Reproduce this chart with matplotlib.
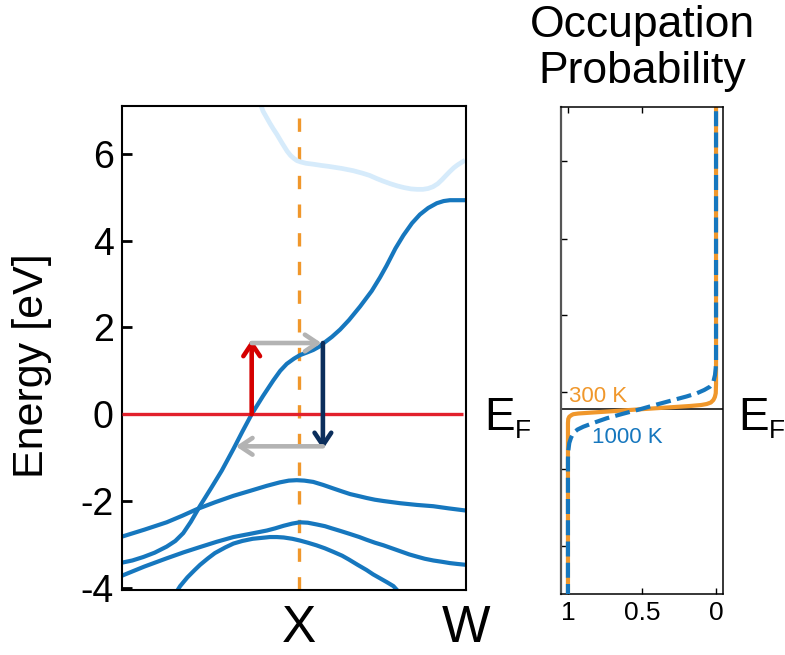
import numpy as np
import matplotlib
matplotlib.use("Agg")
import matplotlib.pyplot as plt

plt.rcParams['font.family'] = ['Liberation Sans', 'DejaVu Sans']

# ---- band structure data: k along the path (0..1), energies in eV ----
k_points = [0.515, 1.0]
k_labels = ['X', 'W']
e_ticks = [-4, -2, 0, 2, 4, 6]

band_top_k = [0.400, 0.410, 0.420, 0.430, 0.440, 0.450, 0.465, 0.480, 0.490, 0.500,
              0.509, 0.520, 0.535, 0.555, 0.580, 0.600, 0.640, 0.672, 0.700, 0.720,
              0.740, 0.759, 0.780, 0.800, 0.820, 0.840, 0.858, 0.875, 0.890, 0.904,
              0.918, 0.930, 0.942, 0.953, 0.965, 0.975, 0.987, 0.997]
band_top_e = [7.20, 6.98, 6.84, 6.70, 6.57, 6.45, 6.25, 6.06, 5.96, 5.89,
              5.84, 5.81, 5.78, 5.76, 5.73, 5.71, 5.66, 5.61, 5.55, 5.50,
              5.43, 5.37, 5.31, 5.26, 5.22, 5.19, 5.18, 5.18, 5.20, 5.24,
              5.31, 5.40, 5.50, 5.59, 5.68, 5.74, 5.80, 5.85]

band_cross_k = [0.0, 0.030, 0.062, 0.095, 0.130, 0.155, 0.178, 0.200, 0.227, 0.260,
                0.290, 0.324, 0.350, 0.377, 0.410, 0.440, 0.460, 0.479, 0.500, 0.517,
                0.537, 0.556, 0.572, 0.585, 0.610, 0.634, 0.660, 0.692, 0.726, 0.750,
                0.769, 0.795, 0.818, 0.843, 0.866, 0.890, 0.915, 0.935, 0.953, 0.975,
                1.0]
band_cross_e = [-3.42, -3.37, -3.29, -3.19, -3.05, -2.92, -2.74, -2.48, -2.11, -1.69,
                -1.30, -0.80, -0.40, 0.00, 0.42, 0.78, 1.00, 1.16, 1.28, 1.36,
                1.42, 1.48, 1.55, 1.63, 1.78, 1.95, 2.17, 2.48, 2.84, 3.15,
                3.42, 3.82, 4.12, 4.40, 4.60, 4.75, 4.86, 4.91, 4.93, 4.93,
                4.93]

band_a_k = [0.0, 0.065, 0.130, 0.175, 0.217, 0.270, 0.324, 0.375, 0.421, 0.440,
            0.459, 0.485, 0.508, 0.530, 0.556, 0.585, 0.614, 0.640, 0.663, 0.690,
            0.711, 0.735, 0.760, 0.808, 0.857, 0.905, 0.950, 1.0]
band_a_e = [-2.82, -2.66, -2.49, -2.34, -2.19, -2.03, -1.88, -1.76, -1.65, -1.61,
            -1.57, -1.53, -1.52, -1.53, -1.56, -1.63, -1.71, -1.78, -1.84, -1.89,
            -1.93, -1.97, -2.00, -2.05, -2.09, -2.12, -2.17, -2.22]

band_c_k = [0.0, 0.065, 0.130, 0.180, 0.227, 0.275, 0.324, 0.370, 0.421, 0.445,
            0.470, 0.495, 0.517, 0.540, 0.566, 0.590, 0.610, 0.635, 0.663, 0.690,
            0.710, 0.735, 0.760, 0.785, 0.810, 0.835, 0.857, 0.880, 0.905, 0.930,
            0.953, 0.975, 1.0]
band_c_e = [-3.72, -3.51, -3.32, -3.18, -3.06, -2.94, -2.83, -2.76, -2.68, -2.63,
            -2.57, -2.52, -2.49, -2.50, -2.54, -2.58, -2.63, -2.69, -2.76, -2.83,
            -2.89, -2.96, -3.02, -3.09, -3.16, -3.23, -3.28, -3.33, -3.37, -3.40,
            -3.43, -3.45, -3.47]

band_d_k = [0.150, 0.169, 0.190, 0.210, 0.227, 0.250, 0.270, 0.300, 0.324, 0.350,
            0.380, 0.405, 0.430, 0.450, 0.470, 0.495, 0.517, 0.540, 0.565, 0.590,
            0.614, 0.640, 0.660, 0.685, 0.711, 0.730, 0.750, 0.770, 0.789, 0.805,
            0.815]
band_d_e = [-4.20, -3.96, -3.76, -3.60, -3.47, -3.32, -3.20, -3.07, -2.98, -2.92,
            -2.87, -2.85, -2.83, -2.83, -2.84, -2.87, -2.91, -2.96, -3.02, -3.09,
            -3.17, -3.26, -3.35, -3.47, -3.59, -3.69, -3.78, -3.87, -3.96, -4.10,
            -4.20]

# scattering cycle drawn as arrows (k, E)
k_start, k_end, k_back = 0.377, 0.584, 0.331
e_excited, e_upper, e_lower, e_drop = 1.72, 1.64, -0.74, -0.81

# ---- occupation probability (Fermi function) data ----
occ_ticks = [1, 0.5, 0]
occ_labels = ['1', '0.5', '0']
f300_occ = [1.0, 1.0, 0.998, 0.991, 0.975, 0.964, 0.930, 0.851, 0.700, 0.514,
            0.350, 0.176, 0.100, 0.063, 0.035, 0.018, 0.008, 0.002, 0.0, 0.0]
f300_e = [-1.90, -0.140, -0.100, -0.077, -0.060, -0.052, -0.045, -0.037, -0.022, -0.003,
          0.013, 0.030, 0.040, 0.050, 0.065, 0.090, 0.120, 0.157, 0.250, 3.10]
f1000_occ = [1.0, 1.0, 0.998, 0.991, 0.980, 0.964, 0.935, 0.896, 0.820, 0.739,
             0.630, 0.514, 0.400, 0.288, 0.200, 0.130, 0.080, 0.041, 0.020, 0.007,
             0.002, 0.0, 0.0]
f1000_e = [-1.90, -0.50, -0.42, -0.34, -0.29, -0.24, -0.205, -0.177, -0.135, -0.093,
           -0.048, -0.003, 0.045, 0.090, 0.125, 0.157, 0.190, 0.223, 0.260, 0.340,
           0.410, 0.490, 3.10]
occ_eticks = [-1.37, -0.60, 0.17, 0.94, 1.70, 2.48]

blue = '#1677be'
light_blue = '#d6ebfb'
orange = '#f0972b'
red_line = '#e2212c'
red_arrow = '#d50000'
navy = '#0b2e5c'
gray = '#b3b3b3'

fig = plt.figure(figsize=(7.85, 6.55), dpi=100)
W, H = 785, 655
ax = fig.add_axes([122 / W, 1 - 590 / H, 344 / W, 484 / H])
ax2 = fig.add_axes([561 / W, 1 - 594 / H, 162 / W, 487 / H])

# ---- left: bands ----
ax.axvline(k_points[0], color=orange, lw=2.4, dashes=(4, 4.6), zorder=1)
ax.plot(band_top_k, band_top_e, color=light_blue, lw=3.4, solid_capstyle='butt',
        solid_joinstyle='round')
for kk, ee in [(band_cross_k, band_cross_e), (band_a_k, band_a_e),
               (band_c_k, band_c_e), (band_d_k, band_d_e)]:
    ax.plot(kk, ee, color=blue, lw=3.0, solid_joinstyle='round')
ax.hlines(0, 0, 0.99, color=red_line, lw=2.4, zorder=3)

def arrow(tail, tip, color):
    ax.annotate('', xy=tip, xytext=tail,
                arrowprops=dict(arrowstyle='->,head_length=0.45,head_width=0.3',
                                lw=3.3, color=color, shrinkA=0, shrinkB=0,
                                mutation_scale=20),
                zorder=4)

arrow((k_start, 0.0), (k_start, e_excited), red_arrow)
arrow((k_start, e_upper), (k_end - 0.004, e_upper), gray)
arrow((k_end, e_upper), (k_end, e_drop), navy)
arrow((k_end, e_lower), (k_back, e_lower), gray)

ax.set_xlim(0, 1)
ax.set_ylim(-4.05, 7.1)
ax.set_xticks(k_points)
ax.set_xticklabels(k_labels)
ax.set_yticks(e_ticks)
ax.set_yticklabels([str(t) for t in e_ticks])
ax.tick_params(axis='x', length=0, labelsize=37, pad=10)
ax.tick_params(axis='y', direction='in', length=7, width=2, labelsize=27, pad=6)
for s in ax.spines.values():
    s.set_linewidth(1.5)

fig.text(32 / W, 1 - 366 / H, 'Energy [eV]', rotation=90, ha='center', va='center', fontsize=31)

# ---- right: occupation probability ----
ax2.axhline(0, color='black', lw=1.1, zorder=1)
ax2.plot(f300_occ, f300_e, color=orange, lw=3.0, zorder=2, solid_joinstyle='round')
ax2.plot(f1000_occ, f1000_e, color=blue, lw=3.0, dashes=(3.6, 1.5), zorder=3)
ax2.set_xlim(1.047, -0.047)
ax2.set_ylim(-1.85, 3.02)
ax2.set_xticks(occ_ticks)
ax2.set_xticklabels(occ_labels)
ax2.set_yticks(occ_eticks)
ax2.set_yticklabels([])
ax2.tick_params(axis='x', direction='in', top=True, length=4, width=1, labelsize=19, pad=5)
ax2.tick_params(axis='y', direction='in', length=4, width=1)
for s in ax2.spines.values():
    s.set_linewidth(1.1)
ax2.spines['left'].set_linewidth(1.6)
ax2.spines['left'].set_color('#555555')

ax2.text(0.99, 0.07, '300 K', color=orange, fontsize=16, va='baseline', ha='left')
ax2.text(0.84, -0.34, '1000 K', color=blue, fontsize=16, va='baseline', ha='left')

fig.text(642 / W, 1 - 83 / H, 'Occupation\nProbability', ha='center', va='baseline',
         fontsize=32, linespacing=1.15)

# Fermi level labels
for xe in (484, 738):
    fig.text(xe / W, 1 - 430 / H, 'E', fontsize=33, va='baseline', ha='left')
    fig.text((xe + 31) / W, 1 - 438 / H, 'F', fontsize=19, va='baseline', ha='left')

fig.savefig('out.png', dpi=100)
